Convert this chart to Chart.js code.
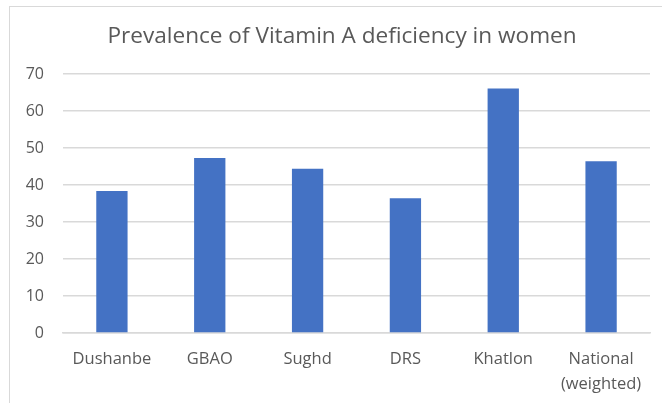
<!DOCTYPE html>
<html>
<head>
<meta charset="utf-8">
<script src="https://cdn.jsdelivr.net/npm/chart.js@4"></script>
<style>
  html, body { margin: 0; padding: 0; background: #fff; }
  #wrap { position: relative; width: 662px; height: 403px; overflow: hidden; }
  #frame { position: absolute; left: 9px; top: 6px; width: 700px; height: 500px; border: 1px solid #d9d9d9; }
  #chart { position: absolute; left: 0; top: 0; }
</style>
</head>
<body>
<div id="wrap">
  <div id="frame"></div>
  <canvas id="chart" width="662" height="403"></canvas>
</div>
<script>
const chartTitle = 'Prevalence of Vitamin A deficiency in women';
const regions = ['Dushanbe', 'GBAO', 'Sughd', 'DRS', 'Khatlon', ['National', '(weighted)']];
const prevalence = [38.4, 47.3, 44.4, 36.4, 66.1, 46.4];
const yMax = 70;
const yStep = 10;

const textGrey = '#595959';
const gridGrey = '#d9d9d9';

// title drawn by hand so it can sit a little right of the canvas centre, like the original
const titlePlugin = {
    id: 'offsetTitle',
    afterDraw(chart) {
        const ctx = chart.ctx;
        ctx.save();
        ctx.fillStyle = textGrey;
        ctx.font = '22.6px "Open Sans"';
        ctx.textAlign = 'center';
        ctx.textBaseline = 'alphabetic';
        ctx.fillText(chartTitle, 342, 43);
        ctx.restore();
    }
};

new Chart(document.getElementById('chart'), {
    type: 'bar',
    data: {
        labels: regions,
        datasets: [{
            label: 'Prevalence',
            data: prevalence,
            backgroundColor: '#4472c4',
            borderWidth: 0,
            categoryPercentage: 1,
            barPercentage: 0.32
        }]
    },
    options: {
        responsive: false,
        animation: false,
        layout: { padding: { left: 22, right: 12, top: 74, bottom: 0 } },
        plugins: {
            legend: { display: false },
            tooltip: { enabled: false },
            title: { display: false }
        },
        scales: {
            y: {
                min: 0,
                max: yMax,
                ticks: {
                    stepSize: yStep,
                    color: textGrey,
                    padding: 19,
                    font: { family: 'Open Sans', size: 16 }
                },
                grid: { color: gridGrey, lineWidth: 1.5, drawTicks: false },
                border: { display: false },
                afterFit: function (scale) { scale.width = 41; }
            },
            x: {
                ticks: {
                    color: textGrey,
                    padding: 14,
                    maxRotation: 0,
                    font: { family: 'Open Sans', size: 16.5, lineHeight: 1.5 }
                },
                grid: { display: false, drawTicks: false },
                border: { color: gridGrey, width: 1.5 },
                afterFit: function (scale) { scale.height = 70; }
            }
        }
    },
    plugins: [titlePlugin]
});
</script>
</body>
</html>
